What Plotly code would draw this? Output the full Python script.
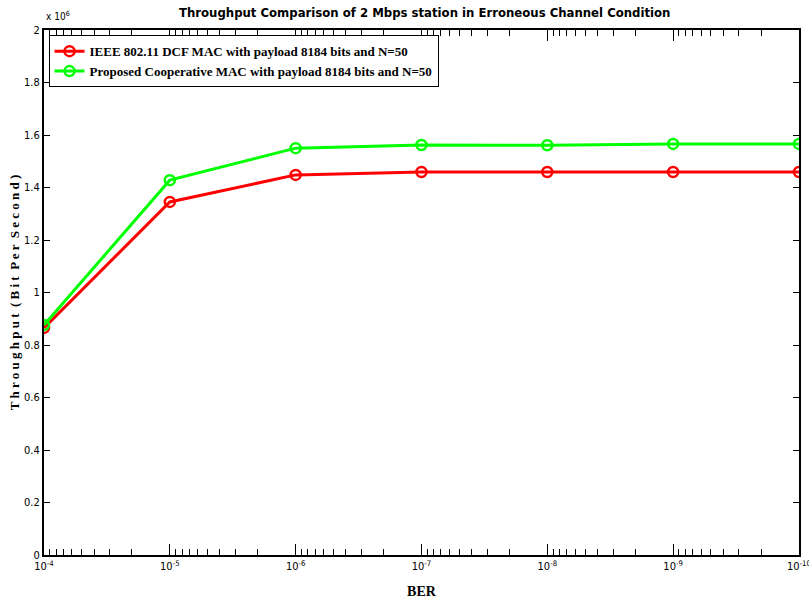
import math
import plotly.graph_objects as go

ber = [1e-4, 1e-5, 1e-6, 1e-7, 1e-8, 1e-9, 1e-10]
dcf = [0.865e6, 1.345e6, 1.448e6, 1.459e6, 1.459e6, 1.459e6, 1.459e6]
coop = [0.876e6, 1.428e6, 1.550e6, 1.562e6, 1.561e6, 1.566e6, 1.566e6]
decades = [-4, -5, -6, -7, -8, -9, -10]
xtick_text = ["10<sup>-4</sup>", "10<sup>-5</sup>", "10<sup>-6</sup>", "10<sup>-7</sup>",
              "10<sup>-8</sup>", "10<sup>-9</sup>", "10<sup>-10</sup>"]
ytick_vals = [0, 0.2e6, 0.4e6, 0.6e6, 0.8e6, 1.0e6, 1.2e6, 1.4e6, 1.6e6, 1.8e6, 2.0e6]
ytick_text = ["0", "0.2", "0.4", "0.6", "0.8", "1", "1.2", "1.4", "1.6", "1.8", "2"]
names = ["IEEE 802.11 DCF MAC with payload 8184 bits and N=50",
         "Proposed Cooperative MAC with payload 8184 bits and N=50"]

xtick_vals = [10.0 ** d for d in decades]
# minor ticks (2..9 x 10^d) on an overlaid linear axis expressed in log10 units
minor_log = [(d - 1) + math.log10(m) for d in decades[:-1] for m in range(2, 10)]
xrange = [-4, -10.0005]

fig = go.Figure()
for y, name, col in [(dcf, names[0], "#ff0000"), (coop, names[1], "#00ff00")]:
    fig.add_trace(go.Scatter(
        x=ber, y=y, name="<b>" + name + "</b>", mode="lines+markers",
        line=dict(color=col, width=3),
        marker=dict(symbol="circle-open", size=10, color=col, line=dict(width=2.5, color=col)),
    ))
fig.add_trace(go.Scatter(x=[math.log10(b) for b in ber], y=dcf, xaxis="x2", mode="none",
                         showlegend=False, hoverinfo="skip"))

sans = "DejaVu Sans Condensed, Liberation Sans, Arial"
serif = "Liberation Serif, Times New Roman"
tickfont = dict(family=sans, size=11, color="black")
fig.update_layout(
    width=809, height=600,
    margin=dict(l=44, r=8, t=30, b=45),
    plot_bgcolor="white", paper_bgcolor="white",
    showlegend=True,
    title=dict(text="<b>Throughput Comparison of 2 Mbps station in Erroneous Channel Condition</b>",
               x=0.525, xanchor="center", y=0.987, yanchor="top",
               font=dict(family=sans, size=13, color="black")),
    legend=dict(x=0.006, y=0.99, xanchor="left", yanchor="top",
                bordercolor="black", borderwidth=1, bgcolor="white",
                font=dict(family=serif, size=13, color="black"),
                tracegroupgap=0, itemwidth=30),
    xaxis=dict(type="log", range=xrange, tickmode="array", tickvals=xtick_vals, ticktext=xtick_text,
               ticks="inside", ticklen=11, tickcolor="black", tickwidth=1,
               showgrid=False, zeroline=False,
               showline=True, linecolor="black", linewidth=2, mirror="ticks",
               ticklabeloverflow="allow", automargin=False,
               tickfont=tickfont,
               title=dict(text="<b>BER</b>", standoff=14,
                          font=dict(family=serif, size=14, color="black"))),
    xaxis2=dict(type="linear", range=xrange, overlaying="x", side="bottom", anchor="y",
                tickmode="array", tickvals=minor_log, ticks="inside", ticklen=6,
                tickcolor="black", tickwidth=1, showticklabels=False,
                showgrid=False, zeroline=False, showline=False, mirror="ticks",
                automargin=False),
    yaxis=dict(range=[0, 2e6], tickvals=ytick_vals, ticktext=ytick_text,
               ticks="inside", ticklen=6, tickcolor="black", showgrid=False, zeroline=False,
               showline=True, linecolor="black", linewidth=2, mirror="ticks",
               tickfont=tickfont,
               title=dict(text="<b>T h r o u g h p u t  ( B i t  P e r  S e c o n d )</b>", standoff=2,
                          font=dict(family=serif, size=13, color="black"))),
)
fig.add_annotation(text="x 10<sup>6</sup>", xref="paper", yref="paper", x=0.0, y=1.0,
                   xanchor="left", yanchor="bottom", yshift=6, showarrow=False,
                   font=dict(family=sans, size=10, color="black"))
fig.write_html("out.html")
